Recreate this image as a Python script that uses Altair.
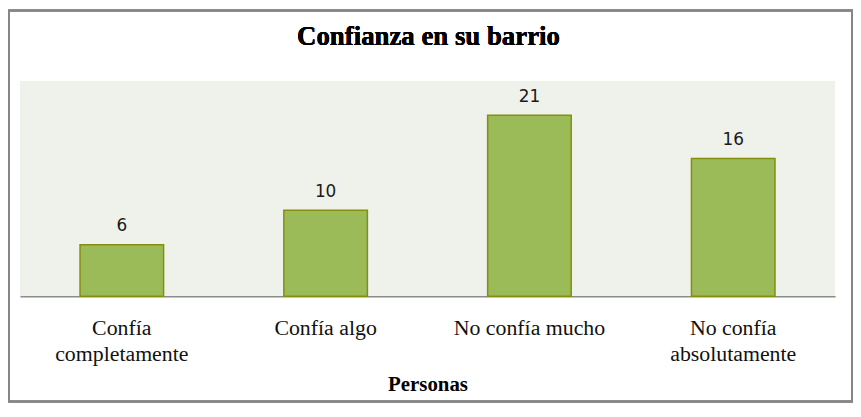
import altair as alt
import pandas as pd

categories = ["Confía completamente", "Confía algo", "No confía mucho", "No confía absolutamente"]
label_lines = [["Confía", "completamente"], ["Confía algo"], ["No confía mucho"], ["No confía", "absolutamente"]]
values = [6, 10, 21, 16]
title_text = "Confianza en su barrio"
x_title = "Personas"

df = pd.DataFrame({"cat": categories, "val": values})

# build multi-line label expression
parts = []
for c, lines in zip(categories, label_lines):
    arr = "[" + ",".join("'" + l + "'" for l in lines) + "]"
    parts.append(f"datum.label == '{c}' ? {arr} : ")
label_expr = "".join(parts) + "datum.label"

PLOT_W, PLOT_H = 821, 217

x_enc = alt.X(
    "cat:N",
    sort=categories,
    scale=alt.Scale(paddingInner=0.59, paddingOuter=0.295),
    axis=alt.Axis(
        title=x_title,
        titleFont="Liberation Serif",
        titleFontSize=21,
        titleFontWeight="bold",
        titleColor="#000000",
        titleBaseline="alphabetic",
        titleY=95,
        labelExpr=label_expr,
        labelFont="Liberation Serif",
        labelFontSize=22,
        labelColor="#111111",
        labelBaseline="alphabetic",
        labelLineHeight=27,
        labelPadding=38,
        labelAngle=0,
        labelLimit=300,
        ticks=False,
        tickSize=0,
        domainColor="#8c8c8c",
        domainWidth=1.5,
        grid=False,
    ),
)
y_enc = alt.Y("val:Q", scale=alt.Scale(domain=[0, 25], nice=False), axis=None)

bars = alt.Chart(df).mark_bar(
    color="#9BBB59", stroke="#858F0C", strokeWidth=1.5
).encode(x=x_enc, y=y_enc)

labels = alt.Chart(df).mark_text(
    font="DejaVu Sans", fontSize=17, color="#1a1a1a", baseline="alphabetic", dy=-13.5
).encode(x=alt.X("cat:N", sort=categories), y="val:Q", text="val:Q")

title = alt.Chart(df).mark_text(
    font="Liberation Serif", fontSize=27, fontWeight="bold", color="#000000",
    baseline="alphabetic", align="center"
).encode(x=alt.value(PLOT_W / 2 + 1), y=alt.value(-36), text=alt.value(title_text))

border = alt.Chart(df).mark_rect(
    fillOpacity=0, stroke="#868686", strokeWidth=2
).encode(x=alt.value(-11), x2=alt.value(838), y=alt.value(-71), y2=alt.value(323))

chart = alt.layer(bars, labels, title, border).properties(
    width=PLOT_W,
    height=PLOT_H,
    autosize=alt.AutoSizeParams(type="none"),
    padding={"left": 12, "top": 72, "right": 18, "bottom": 107},
    background="#ffffff",
).configure_view(fill="#EFF2EA", stroke=None)

chart.save("out.html", embed_options={"renderer": "svg", "actions": False})
